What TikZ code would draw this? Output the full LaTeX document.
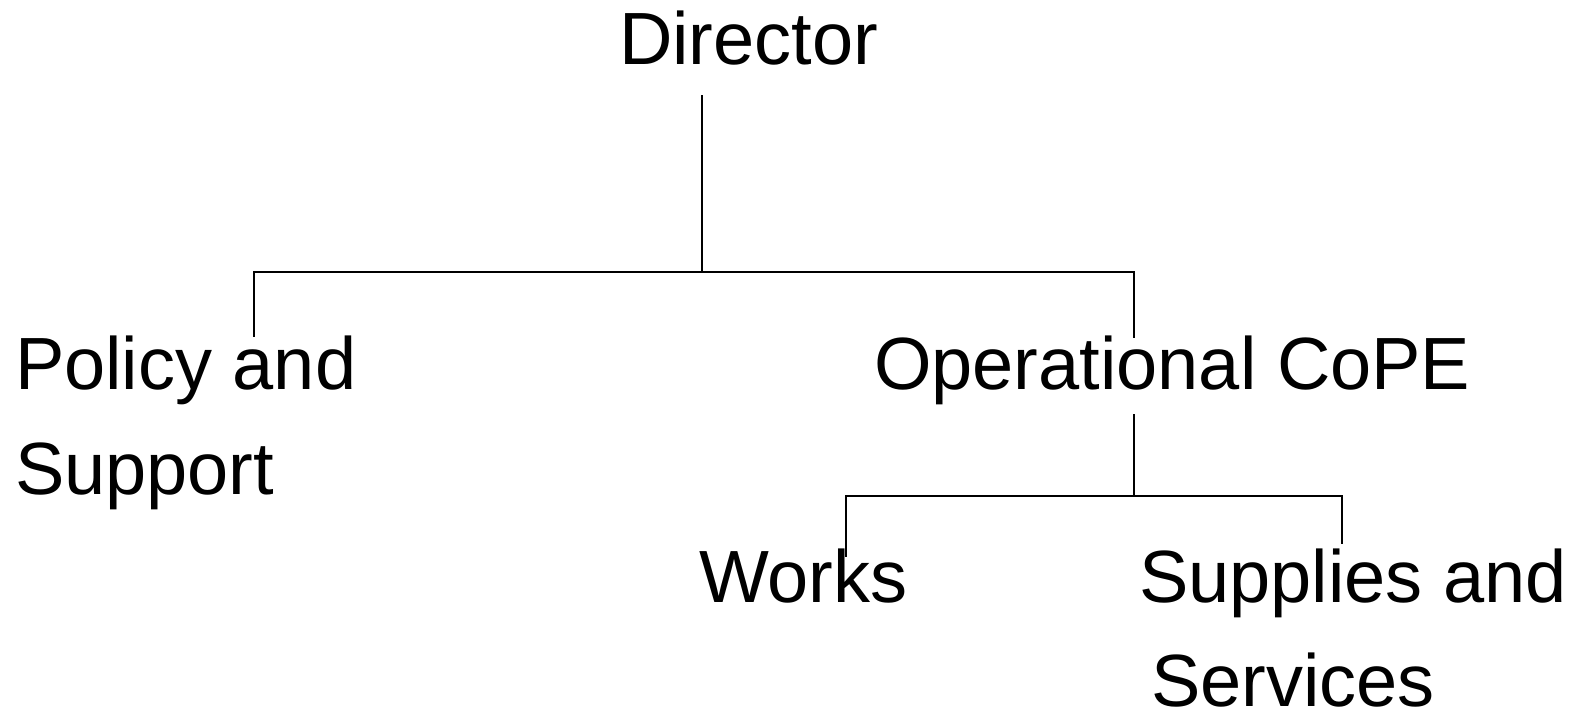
\documentclass[tikz,border=0pt]{standalone}
\usepackage{fontspec}
\setmainfont{Liberation Sans}
\begin{document}
\begin{tikzpicture}[x=1pt,y=-1pt,
  lbl/.style={anchor=base west,inner sep=0pt,outer sep=0pt,font=\fontsize{74}{106}\selectfont},
  conn/.style={line width=1.8pt,line cap=rect}]
\useasboundingbox (0,0) rectangle (1583,714);
\node[lbl] (dir) at (619,65) {Director};
\node[lbl] (pol) at (15,389) {Policy and};
\node[lbl] (pol2) at (15,494) {Support};
\node[lbl] (ops) at (874,389) {Operational CoPE};
\node[lbl] (wrk) at (699,602) {Works};
\node[lbl] (sup) at (1139,602) {Supplies and};
\node[lbl,text depth=0pt] (sup2) at (1151,706) {Services};
% junction coordinates
\coordinate (dirb) at (702,96);
\coordinate (j1) at (702,272);
\coordinate (polt) at (254,336);
\coordinate (opst) at (1134,337);
\coordinate (opsb) at (1134,415);
\coordinate (j2) at (1134,496);
\coordinate (wrkt) at (846,556);
\coordinate (supt) at (1342,543);
\draw[conn] (dirb) -- (j1);
\draw[conn] (polt) |- (j1) -| (opst);
\draw[conn] (opsb) -- (j2);
\draw[conn] (wrkt) |- (j2) -| (supt);
\end{tikzpicture}
\end{document}
